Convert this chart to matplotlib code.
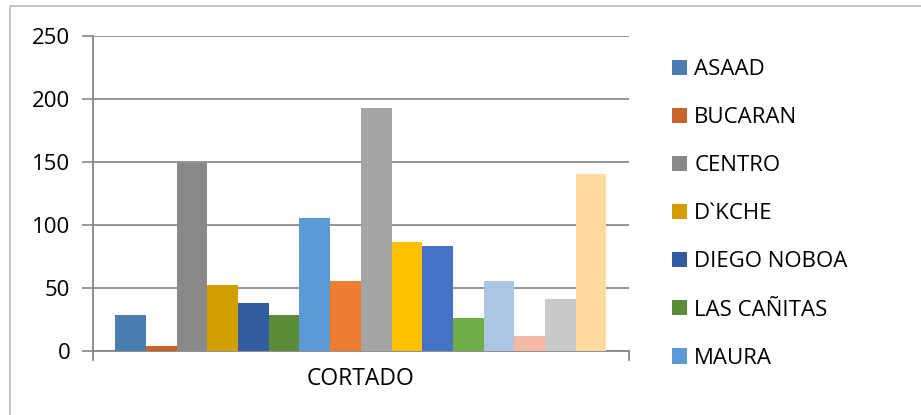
import matplotlib.pyplot as plt
from matplotlib.patches import Patch, Rectangle

category = "CORTADO"

# one series per store, only the first seven show in the legend
store_names = ["ASAAD", "BUCARAN", "CENTRO", "D`KCHE", "DIEGO NOBOA",
               "LAS CAÑITAS", "MAURA"]
values = [28, 4, 149, 52, 38, 28, 105, 55, 193, 86, 83, 26, 55, 12, 41, 140]
colors = ["#4A7EB0", "#C8642A", "#898989", "#D39F00", "#345DA0", "#5B8C39",
          "#5B9BD5", "#ED7D31", "#A5A5A5", "#FFC000", "#4472C4", "#70AD47",
          "#ADC5E5", "#F4B9A5", "#C9C9C9", "#FFD9A0"]
y_ticks = [0, 50, 100, 150, 200, 250]

plt.rcParams["font.family"] = ["Open Sans", "DejaVu Sans"]

fig = plt.figure(figsize=(9.21, 4.15), dpi=100)
W, H = 921, 415
ax = fig.add_axes([92.7 / W, 1 - 350.7 / H, (629 - 92.7) / W, (350.7 - 35.7) / H])

n = len(values)
bar_w = 0.0572  # fraction of the category slot
offsets = [(i - (n - 1) / 2) * bar_w for i in range(n)]
for i, (v, c) in enumerate(zip(values, colors)):
    ax.bar(offsets[i], v, width=bar_w, color=c, zorder=3, linewidth=0)

ax.set_xlim(-0.5, 0.5)
ax.set_ylim(0, 250)
ax.set_yticks(y_ticks)
ax.set_yticklabels([str(t) for t in y_ticks], fontsize=16)
ax.set_xticks([0])
ax.set_xticklabels([category], fontsize=16.5)
ax.tick_params(axis="x", length=0, pad=12)
ax.tick_params(axis="y", length=8, color="#868686", width=1.2, pad=8)
ax.grid(axis="y", color="#8C8C8C", linewidth=1.3, zorder=0)

for side in ["top", "right"]:
    ax.spines[side].set_visible(False)
for side in ["left", "bottom"]:
    ax.spines[side].set_color("#868686")
    ax.spines[side].set_linewidth(1.3)

# small downward ticks at both ends of the category axis
for xpos in [-0.5, 0.5]:
    ax.plot([xpos, xpos], [0, -7], color="#868686", linewidth=1.3,
            clip_on=False, zorder=4)

handles = [Patch(facecolor=colors[i], edgecolor="none") for i in range(len(store_names))]
fig.legend(handles, store_names, loc="upper left",
           bbox_to_anchor=(672 / W, 1 - 59 / H), frameon=False, fontsize=16,
           borderpad=0, borderaxespad=0,
           handlelength=0.68, handleheight=0.68, handletextpad=0.32,
           labelspacing=1.22)

# chart area border
fig.patches.append(Rectangle((10 / W, -0.1), 1.2, 1 - 6 / H + 0.1,
                             transform=fig.transFigure, fill=False,
                             edgecolor="#BFBFBF", linewidth=1.3))

fig.savefig("out.png", dpi=100)
